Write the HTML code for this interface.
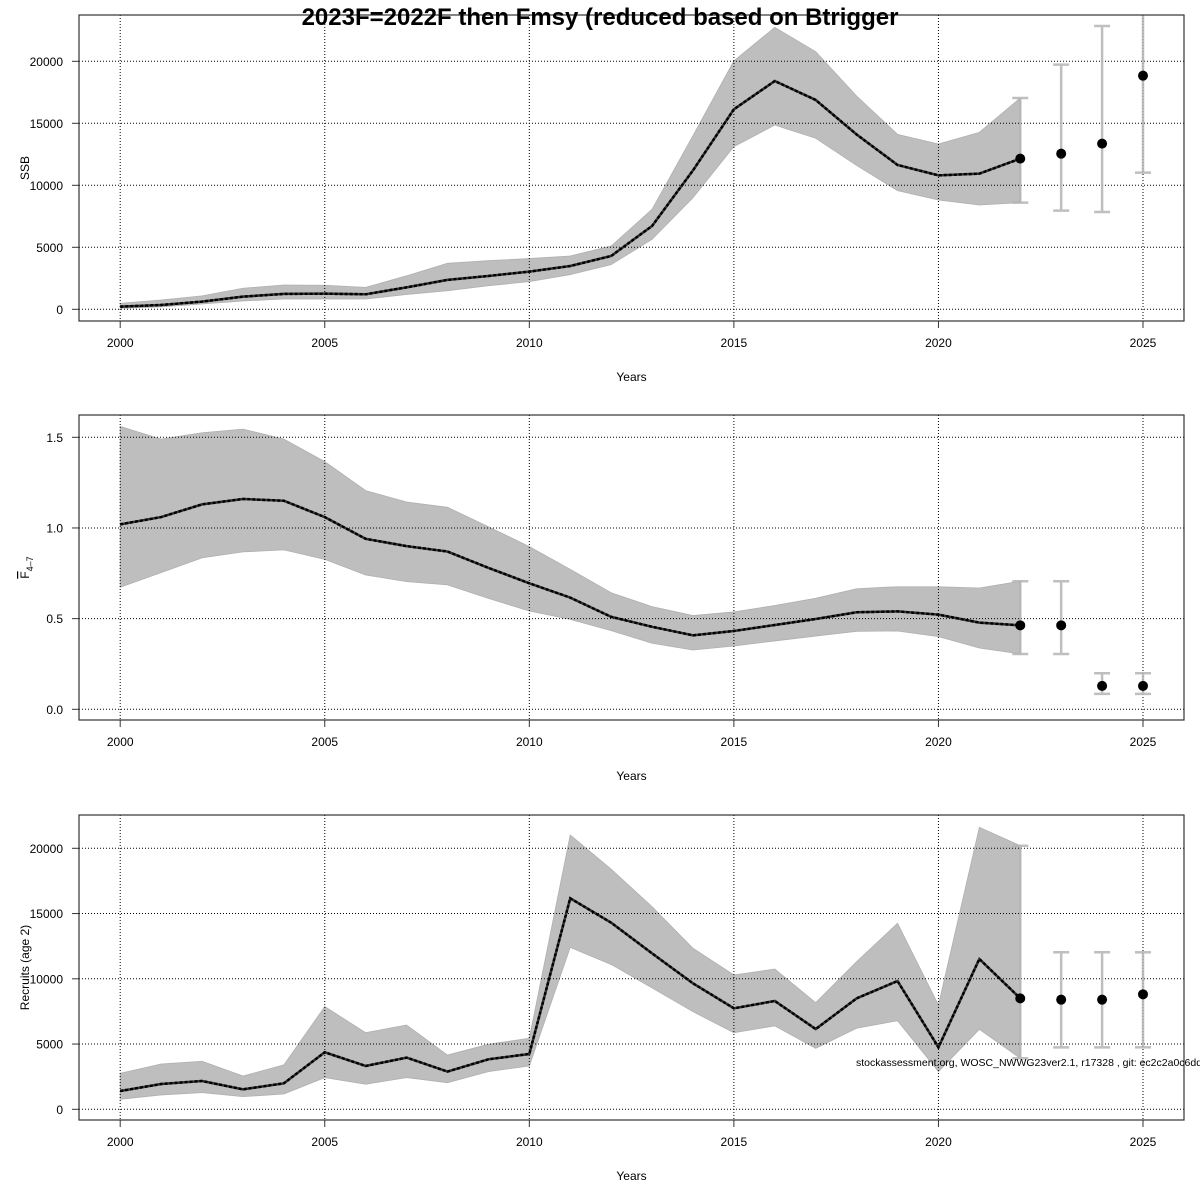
<!DOCTYPE html>
<html><head><meta charset="utf-8"><style>
html,body{margin:0;padding:0;background:#fff;overflow:hidden;}
svg{display:block;font-family:"Liberation Sans",Arial,sans-serif;}
</style></head><body>
<svg id="chart" width="1200" height="1200" viewBox="0 0 1200 1200"></svg>
<script>
// ---- data ----
const years = [2000,2001,2002,2003,2004,2005,2006,2007,2008,2009,2010,2011,2012,2013,2014,2015,2016,2017,2018,2019,2020,2021,2022,2023,2024,2025];
const ssbMed = [215,350,620,1020,1240,1260,1210,1770,2370,2690,3040,3490,4300,6720,11200,16130,18410,16880,14100,11640,10800,10940,12150,12550,13360,18840];
const ssbHi  = [480,750,1080,1700,1960,1940,1770,2700,3710,3920,4090,4300,5100,8060,14000,20030,22740,20780,17200,14110,13330,14270,17040,19730,22850,26000];
const ssbLo  = [80,200,430,670,830,830,830,1200,1500,1900,2230,2800,3600,5640,9000,13120,14860,13790,11600,9570,8820,8410,8600,7960,7850,11020];
const fMed = [1.02,1.06,1.13,1.16,1.15,1.06,0.94,0.90,0.87,0.78,0.695,0.616,0.51,0.455,0.408,0.432,0.465,0.498,0.535,0.54,0.522,0.478,0.463,0.463,0.129,0.129];
const fHi  = [1.56,1.49,1.525,1.545,1.49,1.366,1.206,1.143,1.114,1.007,0.897,0.772,0.643,0.566,0.517,0.537,0.572,0.612,0.665,0.676,0.676,0.669,0.706,0.706,0.199,0.199];
const fLo  = [0.673,0.754,0.835,0.868,0.879,0.827,0.741,0.704,0.686,0.612,0.542,0.496,0.434,0.364,0.327,0.349,0.377,0.404,0.43,0.432,0.401,0.338,0.305,0.305,0.085,0.085];
const recMed = [1400,1940,2170,1530,1990,4370,3320,3960,2890,3830,4240,16170,14300,11950,9650,7740,8300,6150,8500,9830,4750,11520,8500,8400,8400,8810];
const recHi  = [2760,3470,3680,2550,3400,7870,5870,6460,4160,4980,5440,21020,18400,15530,12340,10290,10750,8170,11310,14250,7990,21610,20200,12030,12030,12030];
const recLo  = [770,1100,1280,970,1170,2430,1920,2430,2040,2890,3320,12410,11100,9300,7480,5870,6390,4670,6210,6790,2890,6130,3910,4750,4750,4750];
const ssbTicks = [0,5000,10000,15000,20000];
const fTicks = [0,0.5,1.0,1.5];
const fTickLabels = ["0.0","0.5","1.0","1.5"];
const recTicks = [0,5000,10000,15000,20000];
const xTicks = [2000,2005,2010,2015,2020,2025];
const lastObsYear = 2022;

const NS="http://www.w3.org/2000/svg";
const svg=document.getElementById('chart');
function el(tag,attrs,parent){const e=document.createElementNS(NS,tag);for(const k in attrs)e.setAttribute(k,attrs[k]);(parent||svg).appendChild(e);return e;}
const X0=79,X1=1184;
function xs(y){return 120.2+(y-2000)*(1143-120.2)/25;}

function panel(cfg){
  const g=el('g',{});
  
  
  const ys=v=>cfg.y0+(v-cfg.v0)*(cfg.y1-cfg.y0)/(cfg.v1-cfg.v0);
  const clipId='clip-'+cfg.name;
  const cp=el('clipPath',{id:clipId},g);el('rect',{x:X0,y:cfg.top,width:X1-X0,height:cfg.bot-cfg.top},cp);
  const pg=el('g',{'clip-path':'url(#'+clipId+')'},g);
  const n=years.indexOf(lastObsYear);
  let pts=[];
  for(let i=0;i<=n;i++)pts.push(xs(years[i])+','+ys(cfg.hi[i]));
  for(let i=n;i>=0;i--)pts.push(xs(years[i])+','+ys(cfg.lo[i]));
  const band=el('polygon',{points:pts.join(' '),fill:'#bebebe',stroke:'#b0b0b0','stroke-width':0.8},pg);
  
  
  xTicks.forEach(t=>{el('line',{x1:xs(t),x2:xs(t),y1:cfg.top,y2:cfg.bot,stroke:'#000','stroke-width':1,'stroke-dasharray':'1,2'},pg);});
  cfg.ticks.forEach(t=>{el('line',{x1:X0,x2:X1,y1:ys(t),y2:ys(t),stroke:'#000','stroke-width':1,'stroke-dasharray':'1,2'},pg);});
  for(let i=n;i<years.length;i++){
    const x=xs(years[i]);
    const eb=el('g',{stroke:'#b4b4b4','stroke-width':2.5,opacity:0.85},pg);
    
    
    el('line',{x1:x,x2:x,y1:ys(cfg.hi[i]),y2:ys(cfg.lo[i])},eb);
    el('line',{x1:x-8,x2:x+8,y1:ys(cfg.hi[i]),y2:ys(cfg.hi[i])},eb);
    el('line',{x1:x-8,x2:x+8,y1:ys(cfg.lo[i]),y2:ys(cfg.lo[i])},eb);
  }
  let lp=[];for(let i=0;i<=n;i++)lp.push(xs(years[i])+','+ys(cfg.med[i]));
  const ml=el('polyline',{points:lp.join(' '),fill:'none',stroke:'#333','stroke-width':2.5},pg);
  
  
  el('polyline',{points:lp.join(' '),fill:'none',stroke:'#000','stroke-width':2.5,'stroke-dasharray':'3,2'},pg);
  for(let i=n;i<years.length;i++){
    const c=el('circle',{cx:xs(years[i]),cy:ys(cfg.med[i]),r:5,fill:'#000'},pg);
    
    
  }
  const box=el('rect',{x:X0,y:cfg.top,width:X1-X0,height:cfg.bot-cfg.top,fill:'none',stroke:'#333','stroke-width':1.2},g);
  
  
  xTicks.forEach(t=>{
    el('line',{x1:xs(t),x2:xs(t),y1:cfg.bot,y2:cfg.bot+7,stroke:'#333','stroke-width':1},g);
    const tx=el('text',{x:xs(t),y:cfg.bot+26,'font-size':12,'text-anchor':'middle',fill:'#000'},g);
    tx.textContent=t;
    
    
  });
  cfg.ticks.forEach((t,j)=>{
    el('line',{x1:X0-7,x2:X0,y1:ys(t),y2:ys(t),stroke:'#333','stroke-width':1},g);
    const tx=el('text',{x:63,y:ys(t)+4.5,'font-size':12,'text-anchor':'end',fill:'#000'},g);
    tx.textContent=cfg.labels[j];
    
    
  });
  const xt=el('text',{x:631.5,y:cfg.bot+60,'font-size':12,'text-anchor':'middle',fill:'#000'},g);
  xt.textContent='Years';
  
  
  const yc=(cfg.top+cfg.bot)/2;
  const yt=el('text',{x:0,y:0,'font-size':12,'text-anchor':'middle',fill:'#000',transform:'translate(29,'+yc+') rotate(-90)'},g);
  
  
  if(cfg.ytitle==='F'){
    const o=el('tspan',{style:'text-decoration:overline'},yt);o.textContent='F';
    const s=el('tspan',{'font-size':9,dy:4},yt);s.textContent='4\u20137';
  } else yt.textContent=cfg.ytitle;
}

panel({name:'ssb',top:15,bot:321,y0:309.3,y1:61.3,v0:0,v1:20000,ticks:ssbTicks,labels:ssbTicks.map(String),med:ssbMed,hi:ssbHi,lo:ssbLo,ytitle:'SSB'});
panel({name:'fbar',top:415,bot:720,y0:709.3,y1:437.3,v0:0,v1:1.5,ticks:fTicks,labels:fTickLabels,med:fMed,hi:fHi,lo:fLo,ytitle:'F'});
panel({name:'recruits',top:815,bot:1120,y0:1109.3,y1:848.3,v0:0,v1:20000,ticks:recTicks,labels:recTicks.map(String),med:recMed,hi:recHi,lo:recLo,ytitle:'Recruits (age 2)'});

const title=el('text',{x:600,y:25,'font-size':24,'font-weight':'bold','text-anchor':'middle',fill:'#000'});
title.textContent='2023F=2022F then Fmsy (reduced based on Btrigger';


const wm=el('text',{x:856,y:1066,'font-size':10.5,fill:'#000'});
wm.textContent='stockassessment.org, WOSC_NWWG23ver2.1, r17328 , git: ec2c2a0c6dde';


</script>
</body></html>
